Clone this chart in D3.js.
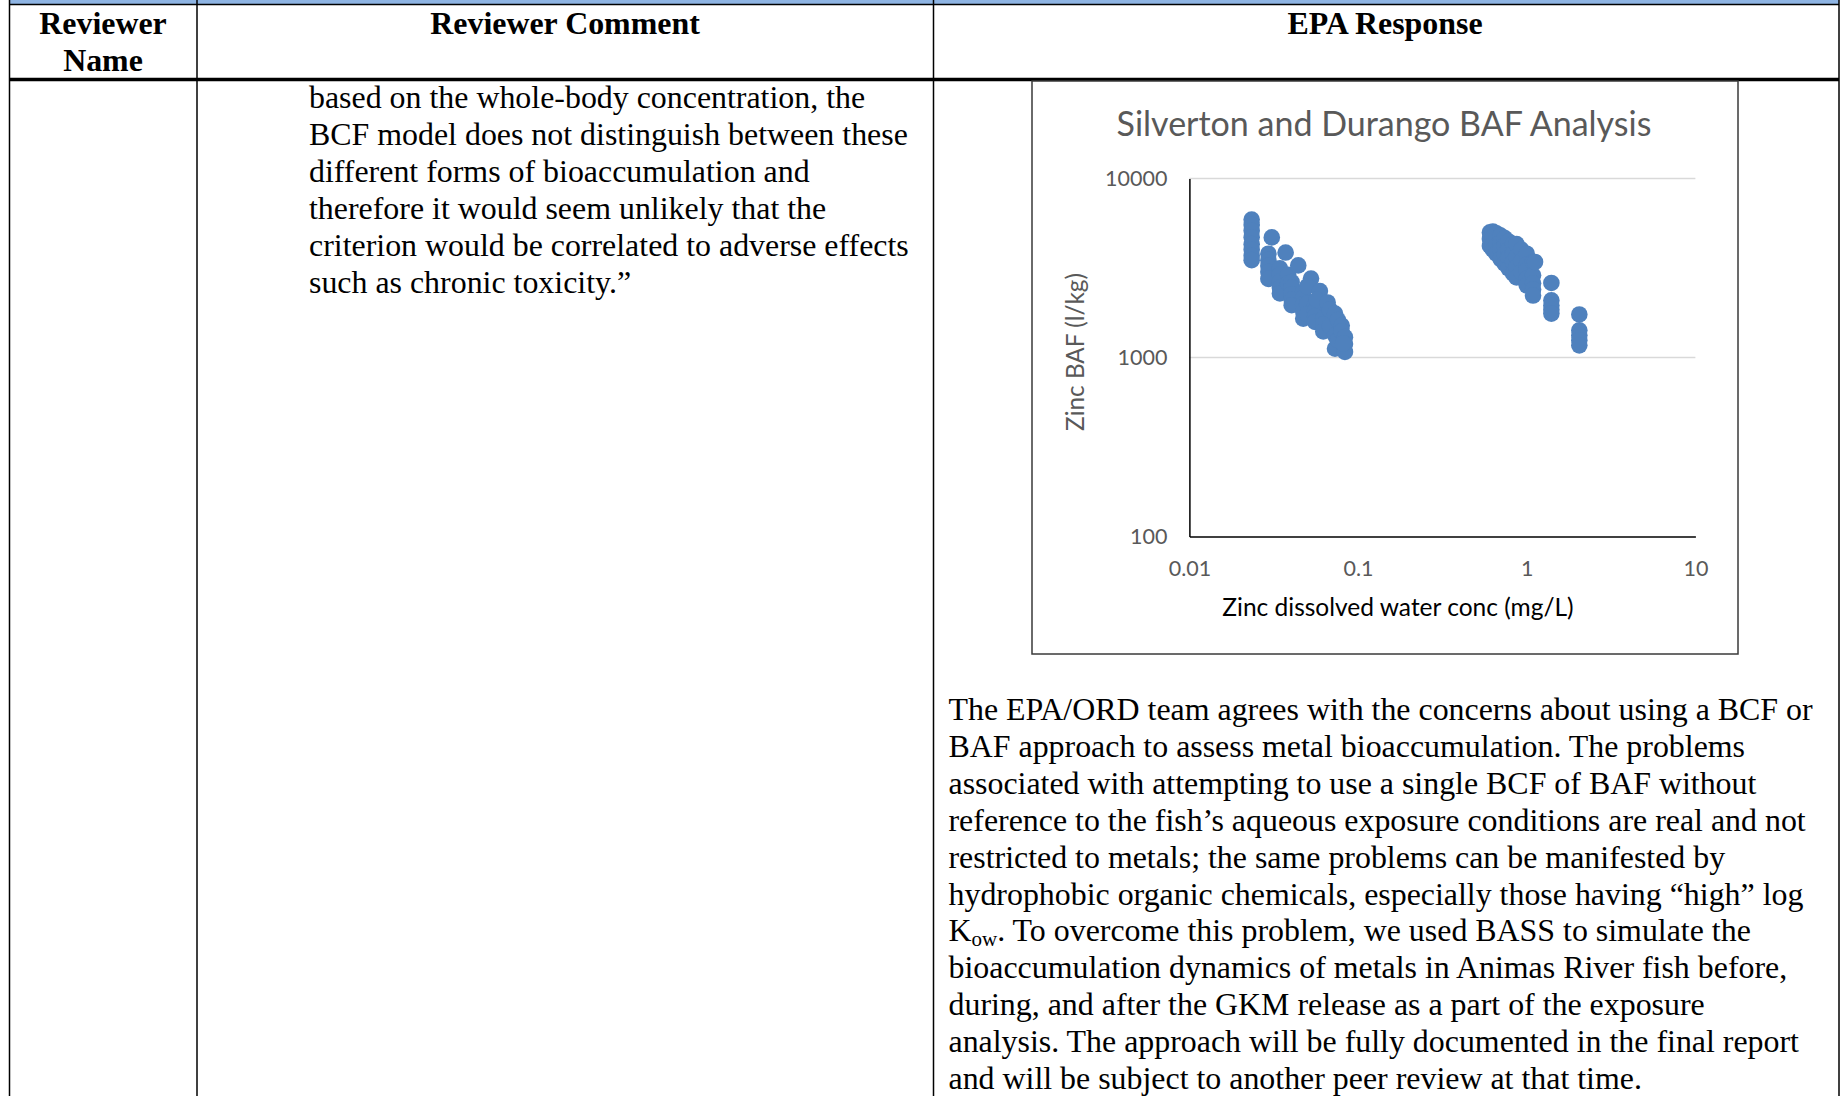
<!DOCTYPE html>
<html>
<head>
<meta charset="utf-8">
<script src="https://cdn.jsdelivr.net/npm/d3@7"></script>
<style>
  html, body { margin: 0; padding: 0; background: #fff; }
  svg { display: block; }
  .doc { font-family: "Liberation Serif", "Times New Roman", serif; fill: #000; }
  .xl { font-family: Lato, "Open Sans", sans-serif; }
  .axis .domain { stroke: #000; stroke-width: 1.5; }
  .axis .tick line { display: none; }
  .axis .tick text { fill: #595959; font-family: Lato, sans-serif; font-size: 21.5px; }
</style>
</head>
<body>
<div id="page"></div>
<script>
// ---- chart data ----
const xTicks = [0.01, 0.1, 1, 10];
const yTicks = [100, 1000, 10000];

// Silverton: dissolved Zn (mg/L) and BAF (l/kg)
const silvertonConc = [
  0.0234, 0.0234, 0.0234, 0.0234, 0.0234, 0.0234, 0.0234, 0.0234,
  0.0308,
  0.0294, 0.0294, 0.0294, 0.0294, 0.0294,
  0.0372,
  0.0344, 0.0344, 0.0344, 0.0344, 0.0344,
  0.0385, 0.0385,
  0.0442,
  0.0404, 0.0404, 0.0404, 0.0404, 0.0404,
  0.0526,
  0.0473, 0.0473, 0.0473, 0.0473, 0.0473,
  0.050, 0.050, 0.050,
  0.0594,
  0.0556, 0.0556, 0.0556, 0.0556,
  0.057,
  0.066,
  0.0622, 0.0622, 0.0622,
  0.068, 0.068,
  0.073, 0.073, 0.073,
  0.076, 0.076,
  0.080, 0.080,
  0.0836, 0.0836, 0.0836,
  0.0817
];
const silvertonBaf = [
  5900, 5500, 5100, 4700, 4300, 4000, 3700, 3500,
  4690,
  3800, 3500, 3250, 3000, 2750,
  3860,
  3150, 2900, 2650, 2450, 2280,
  2900, 2600,
  3270,
  2640, 2450, 2250, 2100, 1960,
  2760,
  2330, 2150, 1980, 1800, 1650,
  2500, 2000, 1750,
  2350,
  1960, 1820, 1700, 1580,
  2100,
  2030,
  1650, 1530, 1400,
  1850, 1500,
  1760, 1330, 1120,
  1620, 1250,
  1510, 1400,
  1300, 1190, 1075,
  1200
];

// Durango
const durangoConc = [
  0.605, 0.605, 0.605,
  0.63, 0.63, 0.63, 0.63,
  0.66, 0.66, 0.66, 0.66,
  0.70, 0.70, 0.70, 0.70,
  0.74, 0.74, 0.74, 0.74,
  0.78, 0.78, 0.78, 0.78,
  0.83, 0.83, 0.83, 0.83,
  0.87, 0.87, 0.87, 0.87,
  0.93, 0.93, 0.93,
  1.0, 1.0, 1.0, 1.0, 1.0,
  1.09, 1.09, 1.09, 1.09, 1.09,
  1.12,
  1.40, 1.40, 1.40, 1.40, 1.40,
  2.05, 2.05, 2.05, 2.05, 2.05
];
const durangoBaf = [
  5000, 4600, 4200,
  5050, 4700, 4300, 4000,
  4950, 4600, 4200, 3800,
  4800, 4400, 4000, 3550,
  4650, 4200, 3800, 3350,
  4450, 4000, 3600, 3150,
  4300, 3800, 3400, 2950,
  4300, 3650, 3200, 2800,
  4000, 3450, 3000,
  3800, 3300, 3070, 2750, 2530,
  3420, 2880, 2600, 2400, 2220,
  3420,
  2610, 2085, 1950, 1850, 1760,
  1740, 1420, 1330, 1250, 1170
];

// ---- document text ----
const headerCols = [
  { x: 103, lines: ['Reviewer', 'Name'] },
  { x: 565, lines: ['Reviewer Comment'] },
  { x: 1385, lines: ['EPA Response'] }
];
const commentLines = [
  'based on the whole-body concentration, the',
  'BCF model does not distinguish between these',
  'different forms of bioaccumulation and',
  'therefore it would seem unlikely that the',
  'criterion would be correlated to adverse effects',
  'such as chronic toxicity.\u201D'
];
const responseLines = [
  'The EPA/ORD team agrees with the concerns about using a BCF or',
  'BAF approach to assess metal bioaccumulation. The problems',
  'associated with attempting to use a single BCF of BAF without',
  'reference to the fish\u2019s aqueous exposure conditions are real and not',
  'restricted to metals; the same problems can be manifested by',
  'hydrophobic organic chemicals, especially those having \u201Chigh\u201D log',
  null, // K_ow line, built with a subscript
  'bioaccumulation dynamics of metals in Animas River fish before,',
  'during, and after the GKM release as a part of the exposure',
  'analysis. The approach will be fully documented in the final report',
  'and will be subject to another peer review at that time.'
];

const W = 1841, H = 1096;
const svg = d3.select('#page').append('svg').attr('width', W).attr('height', H);

// ---- table frame ----
const colX = [9.5, 197, 933.5, 1839];
svg.append('rect').attr('x', colX[0]).attr('y', 0).attr('width', colX[3] - colX[0]).attr('height', 4)
  .attr('fill', '#8eb4e3');
svg.append('line').attr('x1', colX[0]).attr('x2', colX[3]).attr('y1', 4.5).attr('y2', 4.5)
  .attr('stroke', '#000').attr('stroke-width', 1.5);
svg.append('line').attr('x1', colX[0]).attr('x2', colX[3]).attr('y1', 79.5).attr('y2', 79.5)
  .attr('stroke', '#000').attr('stroke-width', 3.5);
colX.forEach(x => {
  svg.append('line').attr('x1', x).attr('x2', x).attr('y1', 0).attr('y2', H)
    .attr('stroke', '#000').attr('stroke-width', 1.5);
});

// header
const FS = 31.9, LH = 37;
headerCols.forEach(c => {
  c.lines.forEach((t, i) => {
    svg.append('text').attr('class', 'doc').attr('x', c.x).attr('y', 34 + i * LH)
      .attr('text-anchor', 'middle').style('font-size', FS + 'px').style('font-weight', 'bold').text(t);
  });
});

// left comment text
commentLines.forEach((t, i) => {
  svg.append('text').attr('class', 'doc').attr('x', 309).attr('y', 108 + i * LH)
    .style('font-size', FS + 'px').text(t);
});

// response text
responseLines.forEach((t, i) => {
  const tx = svg.append('text').attr('class', 'doc').attr('x', 948.5).attr('y', 720 + i * 36.9)
    .style('font-size', FS + 'px');
  if (t === null) {
    tx.append('tspan').text('K');
    tx.append('tspan').attr('dy', 5).style('font-size', '21px').text('ow');
    tx.append('tspan').attr('dy', -5).text('. To overcome this problem, we used BASS to simulate the');
  } else {
    tx.text(t);
  }
});

// ---- chart ----
const box = { x: 1032, y: 81, w: 706, h: 573 };
svg.append('rect').attr('x', box.x).attr('y', box.y).attr('width', box.w).attr('height', box.h)
  .attr('fill', '#fff').attr('stroke', '#3a3a3a').attr('stroke-width', 1.5);

const x = d3.scaleLog().domain([0.01, 10]).range([1189.4, 1695.4]);
const y = d3.scaleLog().domain([100, 10000]).range([536.6, 178.5]);

// gridlines
svg.append('g').selectAll('line').data(yTicks.filter(d => d > 100)).join('line')
  .attr('x1', x(0.01)).attr('x2', x(10)).attr('y1', d => y(d)).attr('y2', d => y(d))
  .attr('stroke', '#d9d9d9').attr('stroke-width', 1.5);

svg.append('g').attr('class', 'axis')
  .attr('transform', `translate(${x(0.01)},0)`)
  .call(d3.axisLeft(y).tickValues(yTicks).tickFormat(d3.format('d')).tickSize(0).tickPadding(22));

svg.append('g').attr('class', 'axis')
  .attr('transform', `translate(0,${y(100)})`)
  .call(d3.axisBottom(x).tickValues(xTicks).tickFormat(d => String(d)).tickSize(0).tickPadding(24));

// points
const pts = silvertonConc.map((c, i) => [c, silvertonBaf[i]])
  .concat(durangoConc.map((c, i) => [c, durangoBaf[i]]));
svg.append('g').selectAll('circle').data(pts).join('circle')
  .attr('cx', d => x(d[0])).attr('cy', d => y(d[1])).attr('r', 8.3)
  .attr('fill', '#4f81bd');

// titles
svg.append('text').attr('class', 'xl').attr('x', 1384).attr('y', 136)
  .attr('text-anchor', 'middle').style('font-size', '34px').attr('fill', '#595959')
  .text('Silverton and Durango BAF Analysis');
svg.append('text').attr('class', 'xl').attr('x', 1398).attr('y', 616)
  .attr('text-anchor', 'middle').style('font-size', '24.5px').attr('fill', '#000')
  .text('Zinc dissolved water conc (mg/L)');
svg.append('text').attr('class', 'xl')
  .attr('transform', 'translate(1084,352) rotate(-90)')
  .attr('text-anchor', 'middle').style('font-size', '24.3px').attr('fill', '#595959')
  .text('Zinc BAF (l/kg)');
</script>
</body>
</html>
